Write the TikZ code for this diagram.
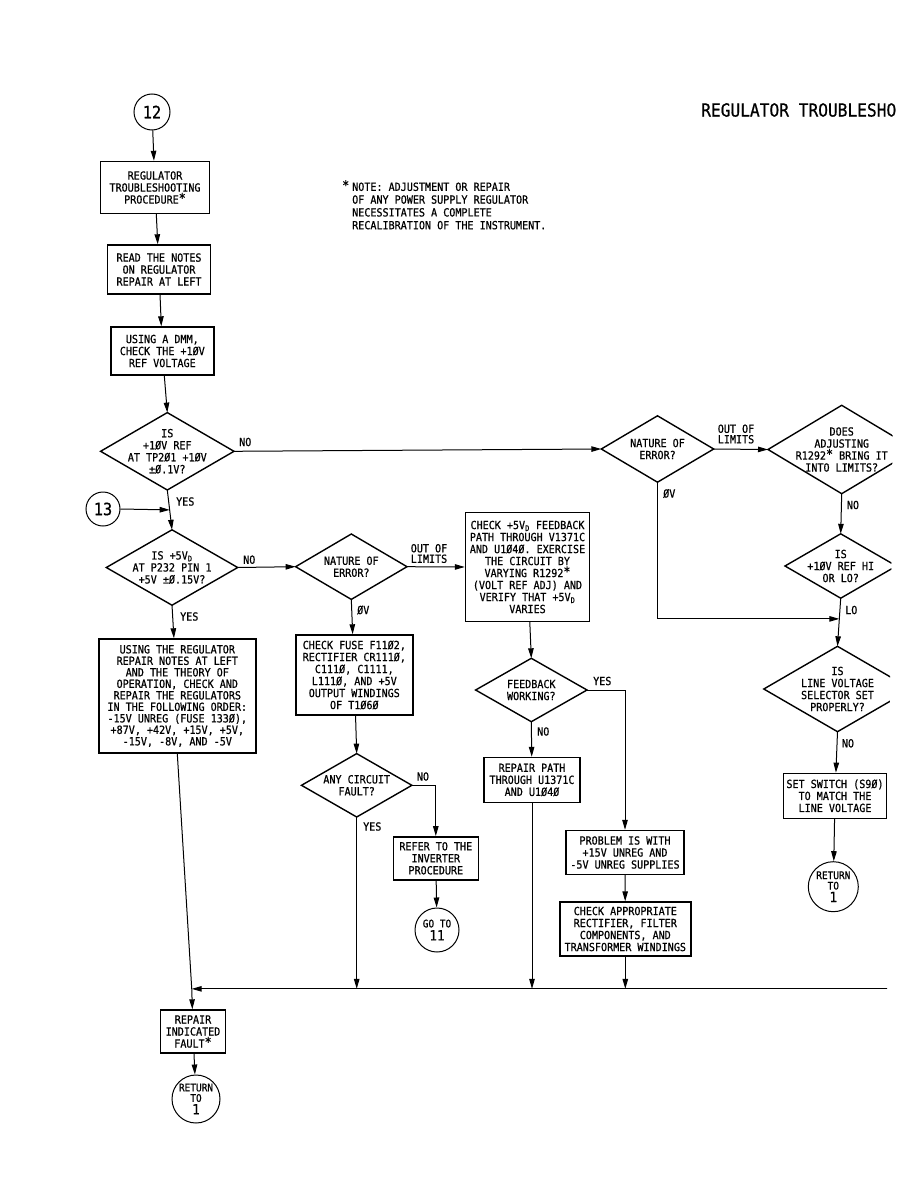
\documentclass[tikz,border=0pt]{standalone}
\usepackage{fontspec}
\usepackage{tikz}
\usetikzlibrary{calc,arrows.meta,positioning}

\newfontfamily\plotfont[FakeStretch=0.9,FakeBold=0.7]{DejaVu Sans Mono}
\newcommand{\txt}{\plotfont\fontsize{11.2}{12}\selectfont}
\newcommand{\nstar}{\raisebox{1pt}{\fontsize{13}{13}\selectfont*}}
\newcommand{\vd}{V\textsubscript{D}}

\begin{document}
\begin{tikzpicture}[x=1pt,y=-1pt,
    box/.style={draw,line width=1.4pt,align=center,inner sep=0pt,font=\txt},
    decision/.style={align=center,inner sep=0pt,font=\txt},
    term/.style={circle,draw,line width=1pt,inner sep=-3pt,align=center,font=\txt},
    arr/.style={-{Triangle[length=10pt,width=5.5pt]},line width=1pt},
    lbl/.style={font=\txt,inner sep=0pt,anchor=west},
]

\useasboundingbox (0,0) rectangle (918,1188);
\clip (0,0) -- (897,0) -- (885,1188) -- (0,1188) -- cycle;

% ---- Heading and note ------------------------------------------------------
\node[anchor=west,inner sep=0pt,font=\plotfont\fontsize{18}{20}\selectfont]
    (title) at (701,110) {REGULATOR TROUBLESHOOTING};

\node[anchor=north west,inner sep=0pt,align=left,
      font=\plotfont\fontsize{11.2}{12.8}\selectfont] (note) at (342,180)
    {\makebox[10pt][l]{\nstar}NOTE: ADJUSTMENT OR REPAIR\\
     \hspace*{10pt}OF ANY POWER SUPPLY REGULATOR\\
     \hspace*{10pt}NECESSITATES A COMPLETE\\
     \hspace*{10pt}RECALIBRATION OF THE INSTRUMENT.};

% ---- Left column -----------------------------------------------------------
\node[term,minimum size=36pt,font=\plotfont\fontsize{17}{18}\selectfont]
    (c12) at (152,112) {12};
\node[box,minimum width=109pt,minimum height=52pt] (reg) at (155,187.5)
    {REGULATOR\\TROUBLESHOOTING\\PROCEDURE\nstar};
\node[box,minimum width=103pt,minimum height=49pt] (notes) at (159,269.5)
    {READ THE NOTES\\ON REGULATOR\\REPAIR AT LEFT};
\node[box,minimum width=103pt,minimum height=48pt] (dmm) at (162.3,351)
    {USING A DMM,\\CHECK THE +1ØV\\REF VOLTAGE};
\node[decision,minimum width=133pt,minimum height=77pt] (q1) at (167.3,451.3)
    {IS\\+1ØV REF\\AT TP2Ø1 +1ØV\\±Ø.1V?};
\node[term,minimum size=34pt,font=\plotfont\fontsize{17}{18}\selectfont]
    (c13) at (103,509) {13};
\node[decision,minimum width=131pt,minimum height=75pt] (q2) at (172,567.5)
    {IS +5\vd\\AT P232 PIN 1\\+5V ±Ø.15V?};
\node[box,minimum width=157pt,minimum height=114pt,
      font=\plotfont\fontsize{11.2}{11.5}\selectfont] (order) at (177.3,696)
    {USING THE REGULATOR\\REPAIR NOTES AT LEFT\\AND THE THEORY OF\\
     OPERATION, CHECK AND\\REPAIR THE REGULATORS\\IN THE FOLLOWING ORDER:\\
     -15V UNREG (FUSE 133Ø),\\+87V, +42V, +15V, +5V,\\-15V, -8V, AND -5V};
\node[box,minimum width=65pt,minimum height=43pt] (fix) at (193,1031.5)
    {REPAIR\\INDICATED\\FAULT\nstar};
\node[term,minimum size=48pt,font=\plotfont\fontsize{10.5}{10.5}\selectfont]
    (ret2) at (196,1099)
    {RETURN\\TO\\[2pt]{\fontsize{14}{14}\selectfont 1}};

% ---- Middle columns --------------------------------------------------------
\node[decision,minimum width=111pt,minimum height=65pt] (nat2) at (351.3,566.7)
    {NATURE OF\\ERROR?};
\node[box,minimum width=117pt,minimum height=80pt] (fuse) at (354.3,675)
    {CHECK FUSE F11Ø2,\\RECTIFIER CR111Ø,\\C111Ø, C1111,\\L111Ø, AND +5V\\
     OUTPUT WINDINGS\\OF T1Ø6Ø};
\node[decision,minimum width=110pt,minimum height=63pt] (q3) at (356.7,785.3)
    {ANY CIRCUIT\\FAULT?};
\node[box,minimum width=85pt,minimum height=43pt] (inv) at (435.8,858.3)
    {REFER TO THE\\INVERTER\\PROCEDURE};
\node[term,minimum size=44pt,font=\plotfont\fontsize{10.5}{11}\selectfont]
    (go11) at (437,930)
    {GO TO\\[2pt]{\fontsize{14}{14}\selectfont 11}};

\node[box,minimum width=124pt,minimum height=109pt] (fb) at (527.5,567)
    {CHECK +5\vd{} FEEDBACK\\PATH THROUGH V1371C\\AND U1Ø4Ø. EXERCISE\\
     THE CIRCUIT BY\\VARYING R1292\nstar\\(VOLT REF ADJ) AND\\
     VERIFY THAT +5\vd\\VARIES};
\node[decision,minimum width=111pt,minimum height=63pt] (q4) at (531.3,690)
    {FEEDBACK\\WORKING?};
\node[box,minimum width=96pt,minimum height=45pt] (rpath) at (532,780)
    {REPAIR PATH\\THROUGH U1371C\\AND U1Ø4Ø};
\node[box,minimum width=118pt,minimum height=44pt] (prob) at (625,852.5)
    {PROBLEM IS WITH\\+15V UNREG AND\\-5V UNREG SUPPLIES};
\node[box,minimum width=131pt,minimum height=54pt] (appr) at (625.3,929)
    {CHECK APPROPRIATE\\RECTIFIER, FILTER\\COMPONENTS, AND\\TRANSFORMER WINDINGS};

% ---- Right column ----------------------------------------------------------
\node[decision,minimum width=112pt,minimum height=66pt] (nat1) at (657.5,449)
    {NATURE OF\\ERROR?};
\node[decision,minimum width=147pt,minimum height=88pt] (q5) at (841.7,449.5)
    {DOES\\ADJUSTING\\R1292\nstar{} BRING IT\\INTO LIMITS?};
\node[decision,minimum width=111pt,minimum height=64pt] (q6) at (840.7,566)
    {IS\\+1ØV REF HI\\OR LO?};
\node[decision,minimum width=147pt,minimum height=85pt] (q7) at (837.5,689)
    {IS\\LINE VOLTAGE\\SELECTOR SET\\PROPERLY?};
\node[box,minimum width=103pt,minimum height=45pt] (sw) at (835,795.8)
    {SET SWITCH (S9Ø)\\TO MATCH THE\\LINE VOLTAGE};
\node[term,minimum size=50pt,font=\plotfont\fontsize{10.5}{10.5}\selectfont]
    (ret1) at (833.3,886.7)
    {RETURN\\TO\\[2pt]{\fontsize{14}{14}\selectfont 1}};

% diamond outlines
\foreach \q in {q1,q2,nat2,q3,q4,nat1,q5,q6,q7}
    \draw[line width=1.4pt] (\q.north) -- (\q.east) -- (\q.south) -- (\q.west) -- cycle;

% ---- Junctions -------------------------------------------------------------
\coordinate (j13) at ($(q1.south)!0.5!(q2.north)$);
\coordinate (jlo) at ($(q6.south)!0.43!(q7.north)$);
\coordinate (jbus) at ($(order.south)!0.92!(fix.north)$);
\coordinate (busend) at (888,990);

% ---- Arrows ----------------------------------------------------------------
\draw[arr] (c12) -- (reg);
\draw[arr] (reg) -- (notes);
\draw[arr] (notes) -- (dmm);
\draw[arr] (dmm) -- (q1.north);
\draw[arr] (q1.south) -- (q2.north);
\draw[arr] (c13.east) -- (j13);
\draw[arr] (q2.south) -- (order);
\draw[line width=1pt] (order.south) -- (jbus);
\draw[arr] (jbus) -- (fix);
\draw[arr] (fix) -- (ret2);

\draw[arr] (q1.east) -- (nat1.west);
\draw[arr] (nat1.east) -- (q5.west);
\draw[arr] (q5.south) -- (q6.north);
\draw[arr] (q6.south) -- (q7.north);
\draw[arr] (nat1.south) |- (jlo);
\draw[arr] (q7.south) -- (sw);
\draw[arr] (sw) -- (ret1);

\draw[arr] (q2.east) -- (nat2.west);
\draw[arr] (nat2.east) -- (fb.west);
\draw[arr] (nat2.south) -- (fuse);
\draw[arr] (fuse) -- (q3.north);
\draw[arr] (q3.east) -| (inv.north);
\draw[arr] (inv) -- (go11);

\draw[arr] (fb) -- (q4.north);
\draw[arr] (q4.south) -- (rpath);
\draw[arr] (q4.east) -| (prob.north);
\draw[arr] (prob) -- (appr);

% return bus
\draw[arr] (q3.south) -- (q3.south |- jbus);
\draw[arr] (rpath.south) -- (rpath.south |- jbus);
\draw[arr] (appr.south) -- (appr.south |- jbus);
\draw[arr] (jbus -| busend) -- (jbus);

% ---- Branch labels ---------------------------------------------------------
\node[lbl] (l1) at (239,442) {NO};
\node[lbl] (l2) at (176,501.5) {YES};
\node[lbl] (l3) at (243,559.7) {NO};
\node[lbl] (l4) at (180,616.5) {YES};
\node[font=\plotfont\fontsize{11.2}{10.5}\selectfont,inner sep=0pt,align=center]
    (l5) at (429,553.5) {OUT OF\\LIMITS};
\node[lbl] (l6) at (357,610) {ØV};
\node[lbl] (l7) at (416.7,776.5) {NO};
\node[lbl] (l8) at (363,826.5) {YES};
\node[lbl] (l9) at (593,681) {YES};
\node[lbl] (l10) at (537,731.5) {NO};
\node[font=\plotfont\fontsize{11.2}{10.5}\selectfont,inner sep=0pt,align=center]
    (l11) at (736,434) {OUT OF\\LIMITS};
\node[lbl] (l12) at (663,493.5) {ØV};
\node[lbl] (l13) at (846.7,505) {NO};
\node[lbl] (l14) at (845,610) {LO};
\node[lbl] (l15) at (841.7,743.3) {NO};

\end{tikzpicture}
\end{document}
